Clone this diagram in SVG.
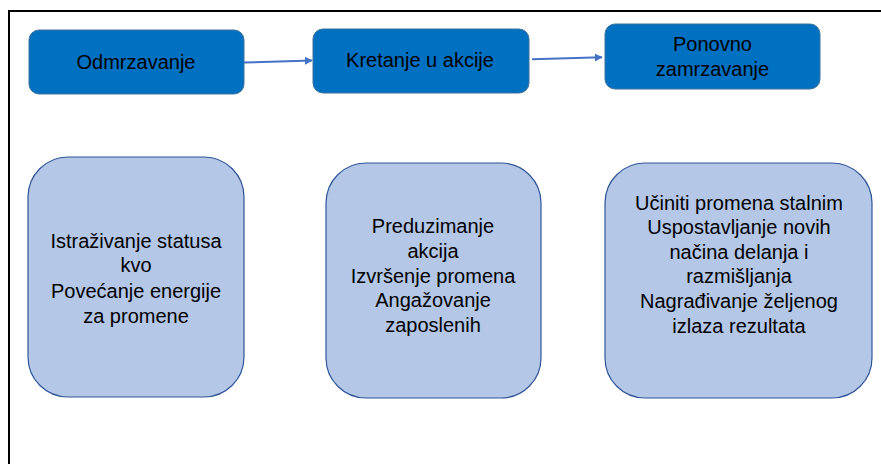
<svg xmlns="http://www.w3.org/2000/svg" width="881" height="464" viewBox="0 0 881 464">
<style>
.top{fill:#0070C0;stroke:#41719C;stroke-width:1}
.low{fill:#B4C7E7;stroke:#2F5597;stroke-width:1.2}
text{font-family:"Liberation Sans",Arial,sans-serif;font-size:20px;fill:#000;text-anchor:middle}
.conn{stroke:#4472C4;stroke-width:2;fill:none}
</style>
<defs>
<marker id="ah" viewBox="0 0 10 10" refX="9" refY="5" markerWidth="4" markerHeight="4" orient="auto" markerUnits="strokeWidth">
<path d="M0,0 L10,5 L0,10 z" fill="#4472C4"/>
</marker>
</defs>
<rect width="881" height="464" fill="#fff"/>
<g id="frame">
<path d="M8,11 H881 M9,10 V464" stroke="#000" stroke-width="2" fill="none"/>
</g>
<g id="connectors">
<line class="conn" x1="244" y1="62.5" x2="312" y2="60.5" marker-end="url(#ah)"/>
<line class="conn" x1="532" y1="59.3" x2="602" y2="57.3" marker-end="url(#ah)"/>
</g>
<g id="odmrzavanje">
<rect class="top" x="29" y="30" width="215" height="64" rx="10"/>
<text x="136" y="69">Odmrzavanje</text>
</g>
<g id="kretanje">
<rect class="top" x="313" y="29" width="216" height="64" rx="10"/>
<text x="420" y="67">Kretanje u akcije</text>
</g>
<g id="zamrzavanje">
<rect class="top" x="605" y="24" width="215" height="65" rx="10"/>
<text x="712.5" y="51">Ponovno</text>
<text x="712.5" y="76">zamrzavanje</text>
</g>
<g id="box-odmrzavanje">
<rect class="low" x="28" y="157" width="216" height="240" rx="40"/>
<text x="136" y="248">Istraživanje statusa</text>
<text x="136" y="272">kvo</text>
<text x="136" y="298">Povećanje energije</text>
<text x="136" y="323">za promene</text>
</g>
<g id="box-kretanje">
<rect class="low" x="326" y="163" width="215" height="235" rx="40"/>
<text x="433" y="233">Preduzimanje</text>
<text x="433" y="258">akcija</text>
<text x="433" y="283">Izvršenje promena</text>
<text x="433" y="307">Angažovanje</text>
<text x="433" y="332">zaposlenih</text>
</g>
<g id="box-zamrzavanje">
<rect class="low" x="605" y="163" width="267" height="235" rx="40"/>
<text x="739" y="210">Učiniti promena stalnim</text>
<text x="739" y="234">Uspostavljanje novih</text>
<text x="739" y="259">načina delanja i</text>
<text x="739" y="283">razmišljanja</text>
<text x="739" y="308">Nagrađivanje željenog</text>
<text x="739" y="333">izlaza rezultata</text>
</g>
</svg>
